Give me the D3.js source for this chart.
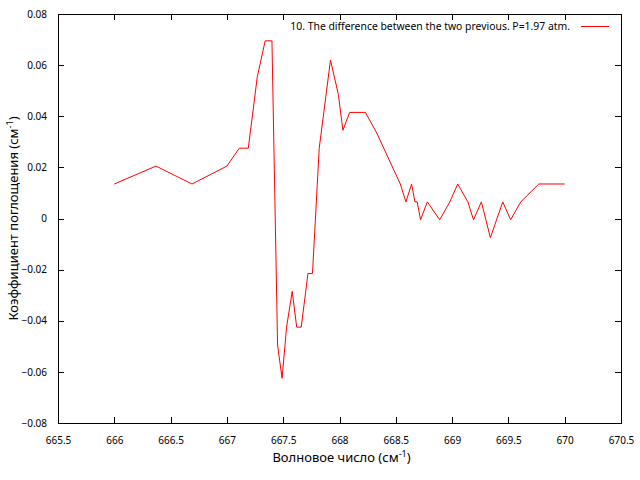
<!DOCTYPE html>
<html><head><meta charset="utf-8">
<script src="https://cdnjs.cloudflare.com/ajax/libs/d3/7.8.5/d3.min.js"></script>
<style>body{margin:0;background:#fff}svg{display:block}text{font-family:"Noto Sans",sans-serif}</style>
</head><body>
<svg id="c" width="640" height="480"></svg>
<script>
const wavenumber = [666.0, 666.37, 666.69, 667.0, 667.11, 667.19, 667.27, 667.34, 667.40, 667.45, 667.49, 667.53, 667.58, 667.62, 667.66, 667.72, 667.76, 667.82, 667.92, 667.99, 668.03, 668.09, 668.23, 668.33, 668.54, 668.59, 668.64, 668.67, 668.69, 668.72, 668.78, 668.89, 668.98, 669.05, 669.14, 669.19, 669.26, 669.34, 669.45, 669.52, 669.61, 669.77, 670.0];
const absorption = [0.0135, 0.0205, 0.0135, 0.0205, 0.0275, 0.0275, 0.0555, 0.0695, 0.0695, -0.0495, -0.0625, -0.0425, -0.0285, -0.0425, -0.0425, -0.0215, -0.0215, 0.0275, 0.0620, 0.0485, 0.0345, 0.0415, 0.0415, 0.0335, 0.0135, 0.0065, 0.0135, 0.0065, 0.0065, -0.0005, 0.0065, -0.0005, 0.0065, 0.0135, 0.0065, -0.0005, 0.0065, -0.0075, 0.0065, -0.0005, 0.0065, 0.0135, 0.0135];
const xTicks = [665.5, 666, 666.5, 667, 667.5, 668, 668.5, 669, 669.5, 670, 670.5];
const yTicks = [-0.08, -0.06, -0.04, -0.02, 0, 0.02, 0.04, 0.06, 0.08];
const seriesLabel = "10. The difference between the two previous. P=1.97 atm.";

const L = 58, R = 621, T = 14, B = 423;
const svg = d3.select("#c");
const x = d3.scaleLinear().domain([665.5, 670.5]).range([L, R]);
const y = d3.scaleLinear().domain([-0.08, 0.08]).range([B, T]);
const tl = 6;
const fmtY = d => d === 0 ? "0" : d3.format(".2f")(d);
const fmtX = d => String(d);

const axB = svg.append("g").attr("transform", `translate(0,${B})`)
  .call(d3.axisBottom(x).tickValues(xTicks).tickSize(-tl).tickPadding(tl + 8).tickFormat(fmtX));
const axT = svg.append("g").attr("transform", `translate(0,${T})`)
  .call(d3.axisTop(x).tickValues(xTicks).tickSize(-tl).tickFormat(""));
const axL = svg.append("g").attr("transform", `translate(${L},0)`)
  .call(d3.axisLeft(y).tickValues(yTicks).tickSize(-tl).tickPadding(tl + 5).tickFormat(fmtY));
const axR = svg.append("g").attr("transform", `translate(${R},0)`)
  .call(d3.axisRight(y).tickValues(yTicks).tickSize(-tl).tickFormat(""));
[axB, axT, axL, axR].forEach(g => {
  g.select(".domain").remove();
  g.selectAll(".tick line").attr("stroke", "#000").attr("shape-rendering", "crispEdges");
  g.selectAll("text").attr("font-size", 10).attr("fill", "#000").attr("font-family", "Noto Sans");
});
svg.append("rect").attr("x", L).attr("y", T).attr("width", R - L).attr("height", B - T)
  .attr("fill", "none").attr("stroke", "#000").attr("shape-rendering", "crispEdges");

const line = d3.line().x((d, i) => x(wavenumber[i])).y(d => y(d));
svg.append("path").datum(absorption).attr("d", line)
  .attr("fill", "none").attr("stroke", "#ff0000").attr("stroke-width", 1);

// legend
svg.append("text").attr("x", 570).attr("y", 30).attr("text-anchor", "end")
  .attr("font-size", 10.4).text(seriesLabel);
svg.append("line").attr("x1", 581).attr("x2", 609).attr("y1", 26.5).attr("y2", 26.5)
  .attr("stroke", "#ff0000").attr("stroke-width", 1);

// axis titles
const xt = svg.append("text").attr("x", (L + R) / 2 + 2).attr("y", 462).attr("text-anchor", "middle").attr("font-size", 13);
xt.append("tspan").text("Волновое число (см");
xt.append("tspan").attr("dy", -5).attr("font-size", 9).text("-1");
xt.append("tspan").attr("dy", 5).text(")");
const yt = svg.append("text").attr("transform", `translate(18,${(T + B) / 2}) rotate(-90)`).attr("text-anchor", "middle").attr("font-size", 13);
yt.append("tspan").text("Коэффициент поглощения (см");
yt.append("tspan").attr("dy", -5).attr("font-size", 9).text("-1");
yt.append("tspan").attr("dy", 5).text(")");
</script>
</body></html>
